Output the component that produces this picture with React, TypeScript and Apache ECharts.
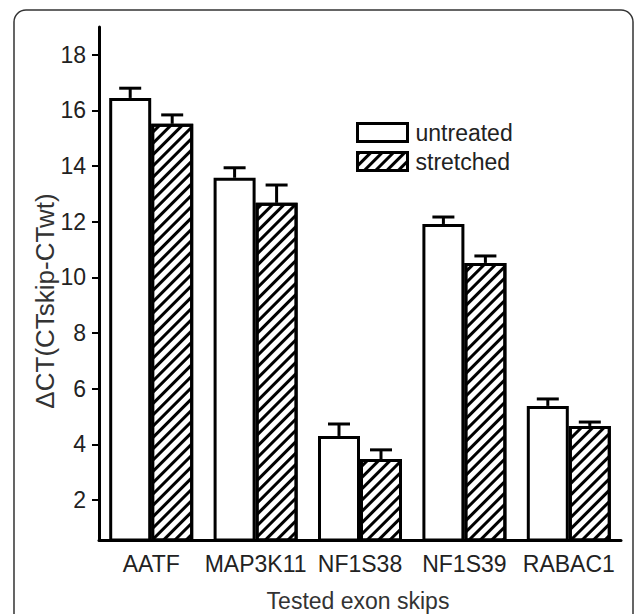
import React, { useEffect, useRef } from "react";
import * as echarts from "echarts";

const categories = ["AATF", "MAP3K11", "NF1S38", "NF1S39", "RABAC1"];
const untreated = [16.45, 13.58, 4.3, 11.92, 5.38];
const untreatedErr = [0.35, 0.36, 0.43, 0.25, 0.25];
const stretched = [15.52, 12.68, 3.47, 10.52, 4.66];
const stretchedErr = [0.32, 0.64, 0.33, 0.25, 0.14];
const yTickValues = [2, 4, 6, 8, 10, 12, 14, 16, 18];
const yMin = 0.56;
const yMax = 19;

const FONT = "'Liberation Sans', Arial, sans-serif";
const BAR_W = 42;

function errorSeries(name: string, values: number[], errs: number[], offset: number) {
  return {
    name: name + " error",
    type: "custom",
    z: 5,
    silent: true,
    data: values.map((v, i) => [i, v, v + errs[i]]),
    renderItem: (params: any, api: any) => {
      const i = api.value(0);
      const base = api.coord([i, api.value(1)]);
      const top = api.coord([i, api.value(2)]);
      const x = base[0] + offset;
      return {
        type: "group",
        children: [
          {
            type: "line",
            shape: { x1: x, y1: base[1], x2: x, y2: top[1] },
            style: { stroke: "#000", lineWidth: 3 },
          },
          {
            type: "line",
            shape: { x1: x - 11, y1: top[1], x2: x + 11, y2: top[1] },
            style: { stroke: "#000", lineWidth: 3 },
          },
        ],
      };
    },
  };
}

export default function App() {
  const ref = useRef<HTMLDivElement>(null);
  useEffect(() => {
    if (!ref.current) return;
    const chart = echarts.init(ref.current, null, { renderer: "svg" });
    const hatch = {
      symbol: "rect",
      symbolSize: 1,
      dashArrayX: [1, 0],
      dashArrayY: [2.2, 4.6],
      rotation: -Math.PI / 4,
      color: "#000",
      backgroundColor: "#fff",
    };
    chart.setOption({
      animation: false,
      backgroundColor: "#fff",
      textStyle: { fontFamily: FONT },
      grid: { left: 99, right: 14, top: 27, bottom: 74, containLabel: false },
      legend: {
        orient: "vertical",
        left: 356,
        top: 121,
        padding: 0,
        itemWidth: 50,
        itemHeight: 18,
        itemGap: 6,
        icon: "rect",
        data: ["untreated", "stretched"],
        itemStyle: { borderWidth: 3, borderColor: "#000" },
        textStyle: { fontSize: 23, color: "#222", fontFamily: FONT, padding: [0, 0, 0, 3], lineHeight: 20 },
      },
      xAxis: {
        type: "category",
        data: categories,
        axisLine: { lineStyle: { color: "#000", width: 3 } },
        axisTick: { alignWithLabel: true, length: 9, lineStyle: { color: "#000", width: 2 } },
        axisLabel: { interval: 0, fontSize: 23, color: "#222", margin: 12, fontFamily: FONT },
      },
      yAxis: {
        type: "value",
        min: yMin,
        max: yMax,
        splitLine: { show: false },
        axisLine: { show: true, lineStyle: { color: "#000", width: 3 } },
        axisTick: { show: true, length: 7, customValues: yTickValues, lineStyle: { color: "#000", width: 2 } },
        axisLabel: { fontSize: 23, color: "#222", margin: 13, customValues: yTickValues, fontFamily: FONT },
      },
      graphic: [
        {
          type: "rect",
          shape: { x: 14, y: 10, width: 619, height: 650, r: 12 },
          style: { fill: "none", stroke: "#333", lineWidth: 1.5 },
          silent: true,
        },
        {
          type: "text",
          x: 45,
          y: 301,
          rotation: Math.PI / 2,
          style: {
            text: "ΔCT(CTskip-CTwt)",
            fontSize: 26,
            fontFamily: FONT,
            fill: "#333",
            align: "center",
            verticalAlign: "middle",
          },
        },
        {
          type: "text",
          x: 358,
          y: 601,
          style: {
            text: "Tested exon skips",
            fontSize: 23,
            fontFamily: FONT,
            fill: "#333",
            align: "center",
            verticalAlign: "middle",
          },
        },
      ],
      series: [
        {
          name: "untreated",
          type: "bar",
          barWidth: BAR_W,
          barGap: "0%",
          data: untreated,
          itemStyle: { color: "#fff", borderColor: "#000", borderWidth: 3 },
        },
        {
          name: "stretched",
          type: "bar",
          barWidth: BAR_W,
          barGap: "0%",
          data: stretched,
          itemStyle: { color: "#fff", borderColor: "#000", borderWidth: 3, decal: hatch },
        },
        errorSeries("untreated", untreated, untreatedErr, -BAR_W / 2),
        errorSeries("stretched", stretched, stretchedErr, BAR_W / 2),
      ],
    });
    return () => chart.dispose();
  }, []);
  return (
    <div
      ref={ref}
      style={{ position: "fixed", left: 0, top: 0, width: 635, height: 614, background: "#fff" }}
    />
  );
}
